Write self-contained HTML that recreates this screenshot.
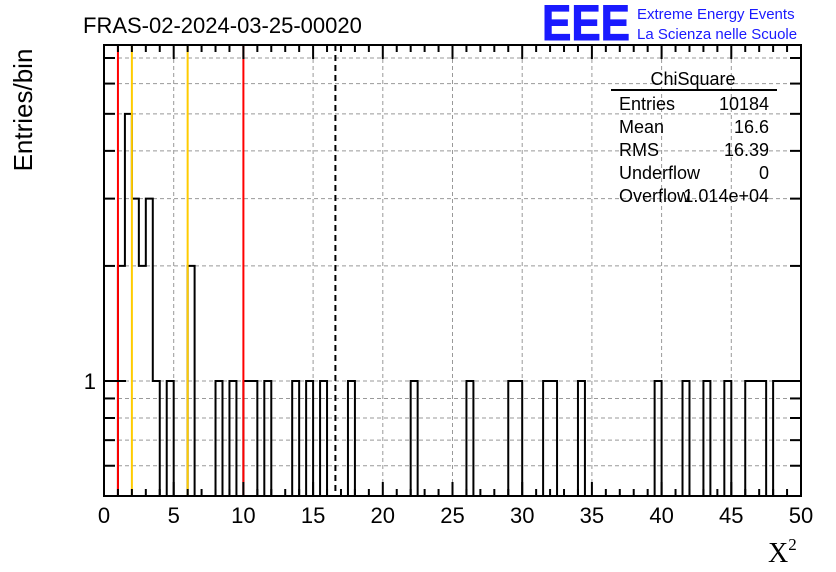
<!DOCTYPE html>
<html><head><meta charset="utf-8"><style>
body{margin:0;background:#fff;}
svg{display:block;font-family:"Liberation Sans",sans-serif;}
</style></head><body>
<svg width="836" height="572" id="c">
<rect width="836" height="572" fill="#fff"/>
<text x="83" y="33" font-size="22">FRAS-02-2024-03-25-00020</text>
<text x="542" y="40" font-size="50" fill="#1a1aff" font-weight="bold" stroke="#1a1aff" stroke-width="1" textLength="88" lengthAdjust="spacingAndGlyphs">EEE</text>
<text x="637" y="19" font-size="15" fill="#1a1aff">Extreme Energy Events</text>
<text x="637" y="39" font-size="15" fill="#1a1aff">La Scienza nelle Scuole</text>
<text transform="translate(32,110) rotate(-90)" font-size="26" text-anchor="middle">Entries/bin</text>
<text x="768" y="562" font-size="28" font-family="Liberation Serif,serif">X<tspan font-size="17" dy="-12">2</tspan></text>
<g id="grid"></g><g id="marks"></g><g id="axes"></g>
<g font-size="18">
<line x1="611" y1="90" x2="777" y2="90" stroke="#000" stroke-width="2"/>
<text x="693" y="85" text-anchor="middle">ChiSquare</text>
<text x="619" y="110">Entries</text><text x="769" y="110" text-anchor="end">10184</text>
<text x="619" y="133">Mean</text><text x="769" y="133" text-anchor="end">16.6</text>
<text x="619" y="156">RMS</text><text x="769" y="156" text-anchor="end">16.39</text>
<text x="619" y="179">Underflow</text><text x="769" y="179" text-anchor="end">0</text>
<text x="619" y="202">Overflow</text><text x="769" y="202" text-anchor="end">1.014e+04</text>
</g>
</svg>
<script>
const binCounts = [
0,0,2,5,3,2,3,1,0,1,
0,0,2,0,0,0,1,0,1,0,
1,1,0,1,0,0,0,1,0,1,
0,1,0,0,0,1,0,0,0,0,
0,0,0,0,1,0,0,0,0,0,
0,0,1,0,0,0,0,0,1,1,
0,0,0,1,1,0,0,0,1,0,
0,0,0,0,0,0,0,0,0,1,
0,0,0,1,0,0,1,0,0,1,
0,0,1,1,1,0,1,1,1,1];
const xTicks = [0,5,10,15,20,25,30,35,40,45,50];
const yGridVals = [0.6,0.7,0.8,0.9,1,2,3,4,5,6,7];
const redLines = [1,10];
const yellowLines = [2,6];
const meanValue = 16.6;
const binW = 0.5;
const X0=104,X1=801,Y0=496,Y1=45,YMIN=0.5,YMAX=7.57;
const xs=v=>X0+(v/50)*(X1-X0);
const ys=v=>v<=YMIN?Y0:Y0-(Math.log10(v)-Math.log10(YMIN))/(Math.log10(YMAX)-Math.log10(YMIN))*(Y0-Y1);
const NS="http://www.w3.org/2000/svg";
function mk(t,a,p){const e=document.createElementNS(NS,t);for(const k in a)e.setAttribute(k,a[k]);p.appendChild(e);return e;}
const grid=document.getElementById('grid'),marks=document.getElementById('marks'),axes=document.getElementById('axes');
xTicks.forEach(v=>{if(v>0&&v<50){const l=mk('line',{x1:xs(v),x2:xs(v),y1:Y1,y2:Y0,stroke:'#999','stroke-dasharray':'4,3'},grid);

}});
yGridVals.forEach(v=>{const l=mk('line',{x1:X0,x2:X1,y1:ys(v),y2:ys(v),stroke:'#999','stroke-dasharray':'4,3'},grid);

});
let d=`M${xs(0)},${Y0}`;
binCounts.forEach((c,i)=>{d+=`V${ys(c)}H${xs((i+1)*binW)}`;});
d+=`V${Y0}`;
const h=mk('path',{d:d,fill:'none',stroke:'#000','stroke-width':2},marks);


redLines.forEach(v=>{const l=mk('line',{x1:xs(v),x2:xs(v),y1:Y1,y2:Y0,stroke:'#f00','stroke-width':2},marks);

});
yellowLines.forEach(v=>{const l=mk('line',{x1:xs(v),x2:xs(v),y1:Y1,y2:Y0,stroke:'#fc0','stroke-width':2},marks);

});
const ml=mk('line',{x1:xs(meanValue),x2:xs(meanValue),y1:Y1,y2:Y0,stroke:'#000','stroke-width':2,'stroke-dasharray':'6,4'},marks);


const fr=mk('rect',{x:X0,y:Y1,width:X1-X0,height:Y0-Y1,fill:'none',stroke:'#000','stroke-width':2},axes);


for(let v=0;v<=50;v++){const L=v%5==0?14:7;
 mk('line',{x1:xs(v),x2:xs(v),y1:Y0,y2:Y0-L,stroke:'#000','stroke-width':2},axes);
 mk('line',{x1:xs(v),x2:xs(v),y1:Y1,y2:Y1+L,stroke:'#000','stroke-width':2},axes);}
xTicks.forEach(v=>{const t=mk('text',{x:xs(v),y:523,'font-size':22,'text-anchor':'middle'},axes);t.textContent=v;

});
yGridVals.forEach(v=>{const L=v==1?22:11;
 mk('line',{x1:X0,x2:X0+L,y1:ys(v),y2:ys(v),stroke:'#000','stroke-width':2},axes);
 mk('line',{x1:X1,x2:X1-L,y1:ys(v),y2:ys(v),stroke:'#000','stroke-width':2},axes);});
const yl=mk('text',{x:96,y:ys(1)+8,'font-size':22,'text-anchor':'end'},axes);yl.textContent='1';


</script>
</body></html>
